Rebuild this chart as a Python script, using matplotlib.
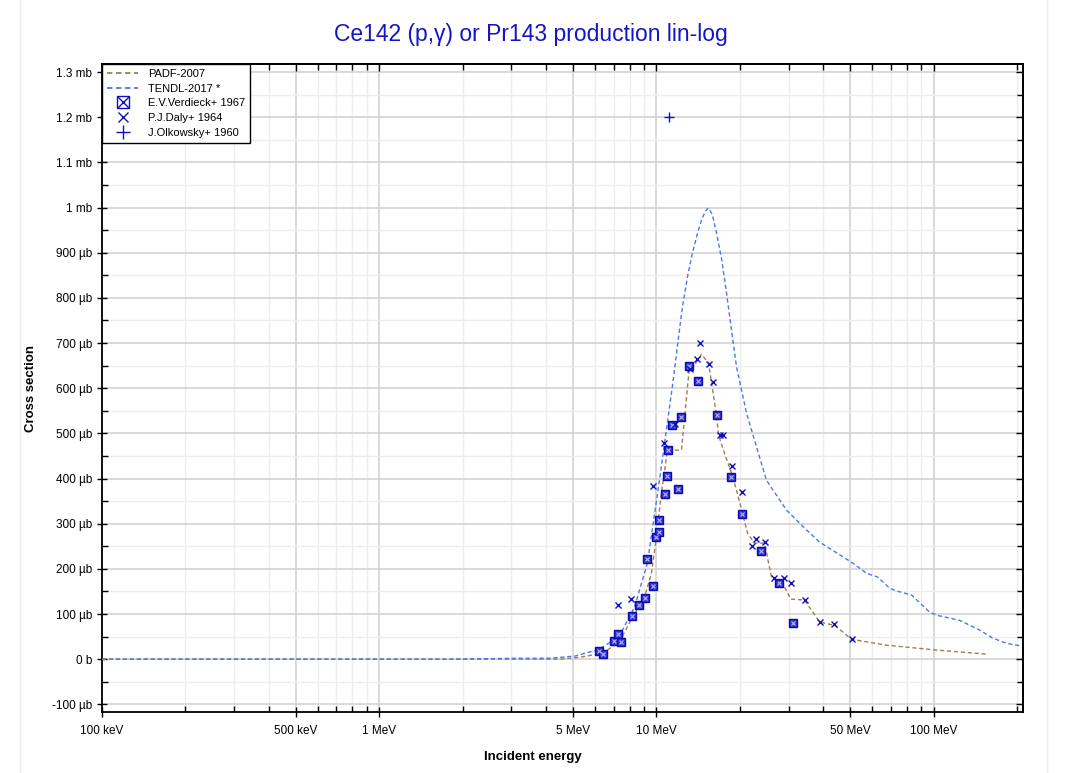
import matplotlib
matplotlib.use("Agg")
import matplotlib.pyplot as plt
from matplotlib.ticker import FixedLocator, FuncFormatter, MultipleLocator, NullFormatter
from matplotlib.lines import Line2D

plt.rcParams['font.family'] = ['Liberation Sans', 'DejaVu Sans']

# ---------------- data (energy in MeV, cross section in microbarn) ----------------
padf_e = [0.1, 1.0, 4.47, 5.27, 6.38, 7.35, 8.19, 9.05, 9.59, 10.0, 10.42, 10.96, 12.31,
          13.15, 13.71, 14.54, 15.41, 16.47, 16.75, 17.6, 18.66, 19.45, 20.44, 21.3, 22.58,
          24.54, 26.0, 27.8, 29.0, 30.5, 34.2, 38.8, 43.9, 50.6, 67.6, 103.0, 157.0]
padf_xs = [0, 0, 0, 4, 13, 38, 93, 137, 190, 270, 368, 463, 463,
           647, 651, 675, 656, 540, 496, 456, 412, 374, 323, 279, 257,
           257, 182, 171, 160, 133, 131, 82, 75, 44, 31, 20, 11]

tendl_e = [0.1, 1.0, 1.79, 3.2, 4.1, 5.1, 6.23, 7.35, 8.33, 9.28, 10.25, 11.42, 11.94, 12.41,
           12.97, 13.49, 14.09, 14.54, 15.0, 15.41, 15.9, 16.47, 17.2, 17.89, 19.45, 21.13,
           22.96, 24.95, 29.46, 34.8, 38.8, 43.2, 51.0, 57.3, 62.8, 69.4, 73.5, 83.3, 96.7,
           103.0, 124.0, 147.0, 163.0, 183.0, 208.0]
tendl_xs = [0, 0, 0, 2, 2, 7, 22, 51, 115, 213, 396, 605, 700, 780,
            850, 900, 945, 972, 992, 999, 985, 944, 885, 811, 647, 545,
            470, 396, 330, 286, 259, 241, 213, 190, 182, 157, 151, 142, 104,
            97, 86, 64, 47, 35, 29]

verdieck_e = [6.22, 6.44, 7.0, 7.29, 7.47, 8.19, 8.68, 9.13, 9.28, 9.75, 10.0, 10.25,
              10.25, 10.78, 10.96, 11.05, 11.42, 12.0, 12.31, 13.15, 14.18, 16.47, 18.5,
              20.4, 23.9, 27.6, 31.0]
verdieck_xs = [18, 11, 40, 55, 38, 95, 120, 135, 221, 162, 270, 281,
               308, 365, 405, 463, 518, 376, 536, 649, 616, 540, 403,
               321, 239, 168, 80]

daly_e = [7.29, 8.12, 9.75, 10.69, 11.71, 13.26, 14.06, 14.41, 15.41, 15.93, 16.89, 17.31,
          18.66, 20.27, 22.03, 22.78, 24.54, 26.45, 28.74, 30.46, 34.22, 38.76, 43.55, 50.58]
daly_xs = [120, 133, 383, 478, 520, 642, 664, 700, 653, 613, 496, 496,
           427, 370, 250, 266, 259, 179, 179, 168, 131, 82, 78, 44]

olkowsky_e = [11.1]
olkowsky_xs = [1200]

xmajor = [0.1, 0.5, 1, 5, 10, 50, 100]
xmajor_labels = ['100 keV', '500 keV', '1 MeV', '5 MeV', '10 MeV', '50 MeV', '100 MeV']

# ---------------- figure ----------------
fig = plt.figure(figsize=(10.71, 7.73), dpi=100)
ax = fig.add_axes([102 / 1071, 61 / 773, 921 / 1071, 648 / 773])

# faint page border
fig.add_artist(Line2D([20 / 1071, 20 / 1071], [0, 1], color='#eeeeee', lw=1))
fig.add_artist(Line2D([1047 / 1071, 1047 / 1071], [0, 1], color='#eeeeee', lw=1))

blue_mark = '#1010c0'
ax.plot(padf_e, padf_xs, color='#a87a4e', lw=1.0, ls=(0, (3, 2)), zorder=3)
ax.plot(tendl_e, tendl_xs, color='#4a78ee', lw=1.0, ls=(0, (3, 2)), zorder=3)

ax.plot(verdieck_e, verdieck_xs, ls='none', marker='s', ms=6, mfc='#3434d4', mec='#0a0ab0',
        mew=1.0, zorder=4)
ax.plot(verdieck_e, verdieck_xs, ls='none', marker='x', ms=3.5, mec='#b8b8f4', mew=0.8, zorder=5)
ax.plot(daly_e, daly_xs, ls='none', marker='x', ms=4.5, mec=blue_mark, mew=1.0, zorder=5)
ax.plot(olkowsky_e, olkowsky_xs, ls='none', marker='+', ms=7, mec=blue_mark, mew=1.0, zorder=5)

ax.set_xscale('log')
ax.set_xlim(0.1, 210)
ax.set_ylim(-117, 1318)

minors = []
for dec in [0.1, 1, 10, 100]:
    for k in range(2, 10):
        val = dec * k
        if k != 5 and val <= 210:
            minors.append(val)

ax.xaxis.set_major_locator(FixedLocator(xmajor))
ax.xaxis.set_major_formatter(FuncFormatter(lambda v, p: xmajor_labels[xmajor.index(min(xmajor, key=lambda m: abs(m - v)))]))
ax.xaxis.set_minor_locator(FixedLocator(minors))
ax.xaxis.set_minor_formatter(NullFormatter())


def yfmt(v, p):
    if abs(v) < 1e-9:
        return '0 b'
    if abs(v) >= 1000:
        return f'{v / 1000:g} mb'
    return f'{v:g} µb'


ax.yaxis.set_major_locator(MultipleLocator(100))
ax.yaxis.set_minor_locator(MultipleLocator(50))
ax.yaxis.set_major_formatter(FuncFormatter(yfmt))

ax.grid(which='major', color='#cfcfcf', lw=1.1, zorder=0)
ax.grid(which='minor', color='#ededed', lw=1.0, zorder=0)
ax.set_axisbelow(True)

ax.tick_params(which='major', direction='inout', length=7, width=1, labelsize=8.5,
               top=False, right=False, colors='black')
ax.tick_params(which='minor', direction='in', length=4, width=1, top=False, right=False)
ax.tick_params(axis='x', which='major', pad=6)
for s in ax.spines.values():
    s.set_linewidth(1.3)

# inward ticks on the top and right edges
secx = ax.secondary_xaxis('top')
secx.xaxis.set_major_locator(FixedLocator(xmajor))
secx.xaxis.set_minor_locator(FixedLocator(minors))
secx.xaxis.set_major_formatter(NullFormatter())
secx.xaxis.set_minor_formatter(NullFormatter())
secx.tick_params(which='major', direction='in', length=5, width=1, colors='black')
secx.tick_params(which='minor', direction='in', length=4, width=1, colors='black')
secx.spines['top'].set_linewidth(1.3)
secx.set_zorder(3)
secy = ax.secondary_yaxis('right')
secy.yaxis.set_major_locator(MultipleLocator(100))
secy.yaxis.set_minor_locator(MultipleLocator(50))
secy.yaxis.set_major_formatter(NullFormatter())
secy.tick_params(which='major', direction='in', length=5, width=1, colors='black')
secy.tick_params(which='minor', direction='in', length=4, width=1, colors='black')
secy.spines['right'].set_linewidth(1.3)
secy.set_zorder(3)

ax.set_ylabel('Cross section', fontsize=9.5, fontweight='bold')
ax.yaxis.set_label_coords((37 - 102) / 921, 0.5)
fig.text(533 / 1071, 1 - 757 / 773, 'Incident energy', fontsize=9.5, fontweight='bold',
         ha='center', va='center')
fig.text(531 / 1071, 1 - 35 / 773, 'Ce142 (p,γ) or Pr143 production lin-log', color='#1515c8',
         fontsize=16.5, ha='center', va='center')

# legend
h_padf = Line2D([], [], color='#a87a4e', lw=1.3, ls=(0, (3, 2)))
h_tendl = Line2D([], [], color='#4a78ee', lw=1.3, ls=(0, (3, 2)))
h_v1 = Line2D([], [], ls='none', marker='s', ms=8, mfc='none', mec=blue_mark, mew=1.0)
h_v2 = Line2D([], [], ls='none', marker='x', ms=8, mec=blue_mark, mew=1.0)
h_daly = Line2D([], [], ls='none', marker='x', ms=7, mec=blue_mark, mew=1.0)
h_olk = Line2D([], [], ls='none', marker='+', ms=10, mec=blue_mark, mew=1.0)
leg = ax.legend([h_padf, h_tendl, (h_v1, h_v2), h_daly, h_olk],
                ['PADF-2007', 'TENDL-2017 *', 'E.V.Verdieck+ 1967', 'P.J.Daly+ 1964', 'J.Olkowsky+ 1960'],
                loc='upper left', bbox_to_anchor=(0, 1), borderaxespad=0, fontsize=8,
                fancybox=False, framealpha=1, edgecolor='black', handlelength=2.8,
                labelspacing=0.42, borderpad=0.45, handletextpad=0.9)
leg.get_frame().set_linewidth(1.0)
leg.set_zorder(10)

fig.savefig('out.png', dpi=100)
